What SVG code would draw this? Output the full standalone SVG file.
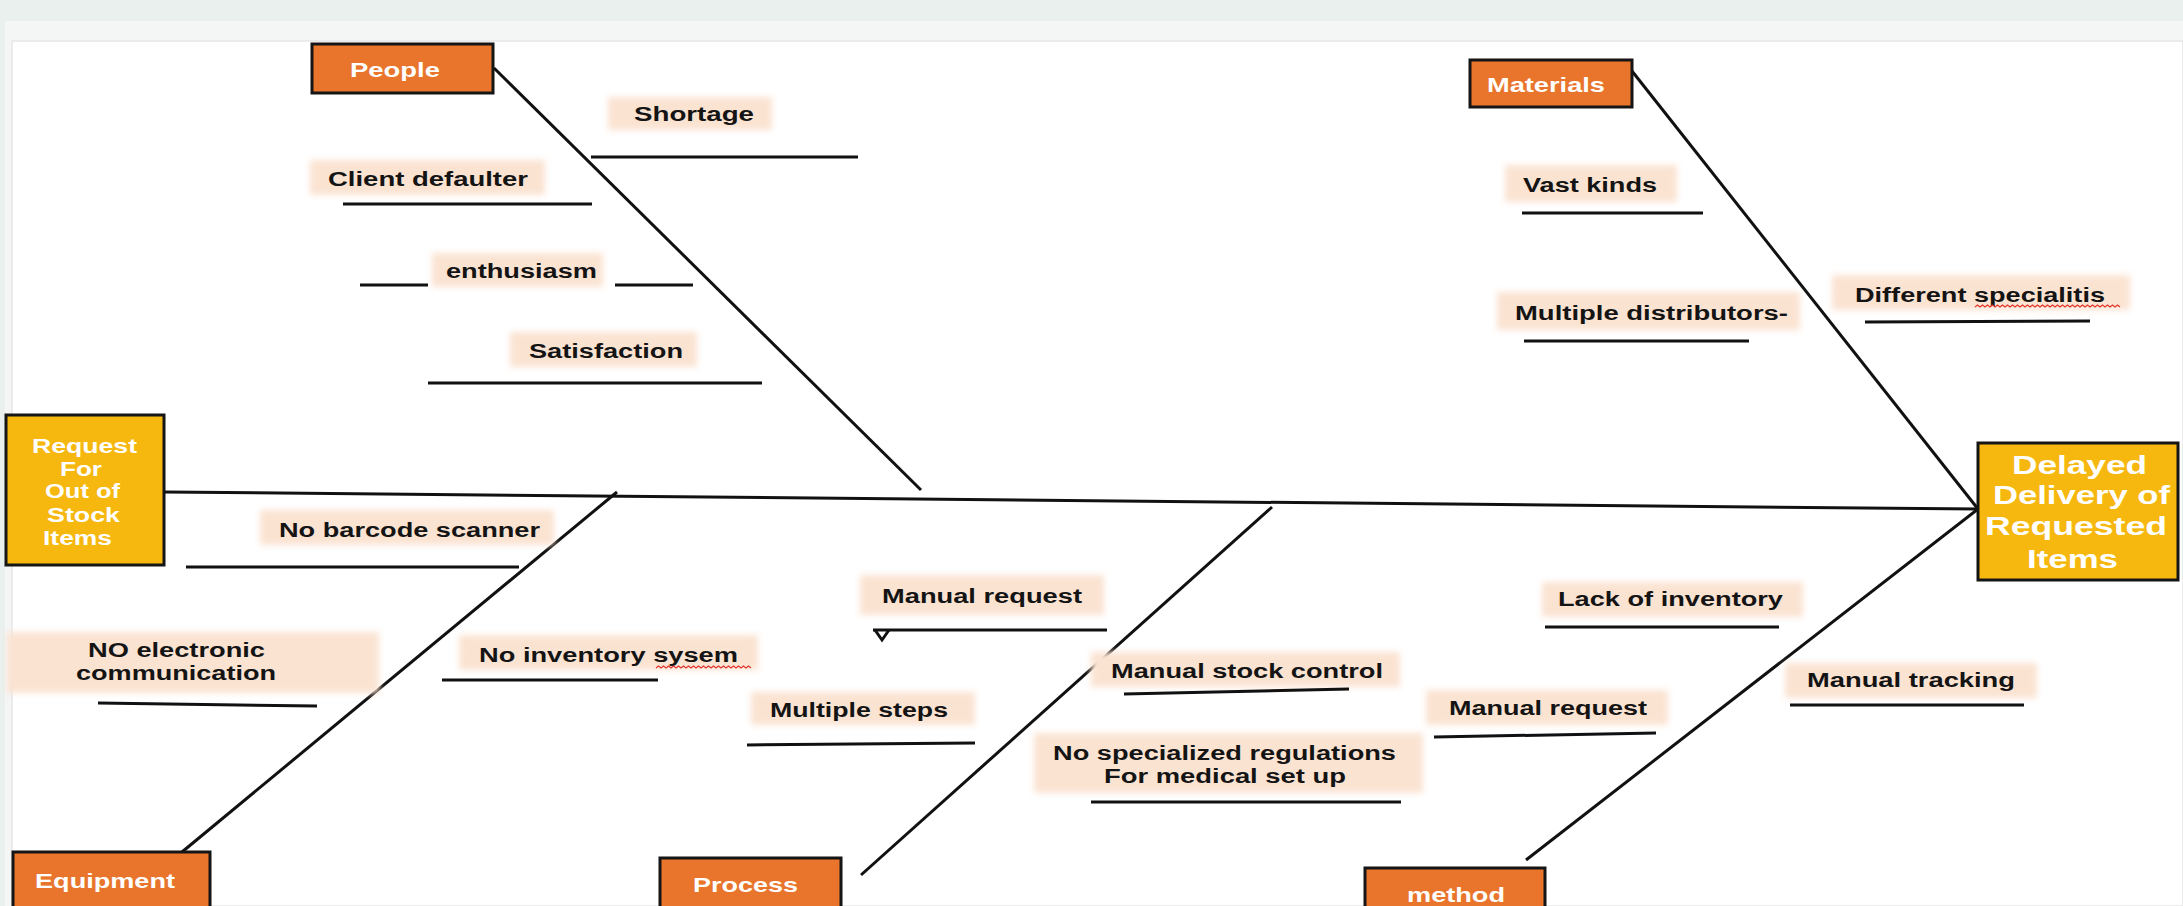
<svg xmlns="http://www.w3.org/2000/svg" width="2183" height="906" viewBox="0 0 2183 906">
<defs>
<filter id="soft" x="-10%" y="-40%" width="120%" height="180%"><feGaussianBlur stdDeviation="3"/></filter>
<style>
.lbl{font-family:"Liberation Sans",Arial,sans-serif;font-weight:bold;font-size:20px;fill:#141414}
.bt{font-family:"Liberation Sans",Arial,sans-serif;font-weight:bold;font-size:21px;fill:#ffffff}
.big{font-family:"Liberation Sans",Arial,sans-serif;font-weight:bold;font-size:25px;fill:#ffffff}
.bg{fill:#fbe3d2;filter:url(#soft)}
.ul{stroke:#111;stroke-width:3;fill:none}
.bone{stroke:#111;stroke-width:3;fill:none}
.org{fill:#e8752b;stroke:#151515;stroke-width:3}
.yel{fill:#f6b70e;stroke:#151515;stroke-width:3}
.sq{stroke:#e0362c;stroke-width:1.2;fill:none}
</style>
</defs>
<rect x="0" y="0" width="2183" height="906" fill="#e9f0ee"/>
<rect x="5" y="21" width="2178" height="885" fill="#f4f5f5"/>
<rect x="12" y="41" width="2171" height="865" fill="#ffffff" stroke="#e6e6e6" stroke-width="1.5"/>

<g id="connectors">
<line class="bone" x1="164" y1="492" x2="1978" y2="509"/>
<line class="bone" x1="494" y1="68" x2="921" y2="490"/>
<line class="bone" x1="1628" y1="66" x2="1978" y2="509"/>
<line class="bone" x1="182" y1="852" x2="617" y2="492"/>
<line class="bone" x1="861" y1="875" x2="1272" y2="507"/>
<line class="bone" x1="1526" y1="860" x2="1978" y2="509"/>
</g>

<g id="node-people">
<rect class="org" x="312" y="44" width="181" height="49"/>
<text class="bt" x="350" y="77" textLength="90" lengthAdjust="spacingAndGlyphs">People</text>
</g>
<g id="node-materials">
<rect class="org" x="1470" y="60" width="162" height="47"/>
<text class="bt" x="1487" y="92" textLength="118" lengthAdjust="spacingAndGlyphs">Materials</text>
</g>
<g id="node-equipment">
<rect class="org" x="13" y="852" width="197" height="60"/>
<text class="bt" x="35" y="888" textLength="140" lengthAdjust="spacingAndGlyphs">Equipment</text>
</g>
<g id="node-process">
<rect class="org" x="660" y="858" width="181" height="54"/>
<text class="bt" x="693" y="892" textLength="105" lengthAdjust="spacingAndGlyphs">Process</text>
</g>
<g id="node-method">
<rect class="org" x="1365" y="868" width="180" height="44"/>
<text class="bt" x="1407" y="902" textLength="98" lengthAdjust="spacingAndGlyphs">method</text>
</g>
<g id="node-request">
<rect class="yel" x="6" y="415" width="158" height="150"/>
<text class="bt" x="32" y="453" textLength="105" lengthAdjust="spacingAndGlyphs">Request</text>
<text class="bt" x="60" y="476" textLength="42" lengthAdjust="spacingAndGlyphs">For</text>
<text class="bt" x="45" y="498" textLength="75" lengthAdjust="spacingAndGlyphs">Out of</text>
<text class="bt" x="47" y="522" textLength="73" lengthAdjust="spacingAndGlyphs">Stock</text>
<text class="bt" x="43" y="545" textLength="69" lengthAdjust="spacingAndGlyphs">Items</text>
</g>
<g id="node-delayed">
<rect class="yel" x="1978" y="443" width="200" height="137"/>
<text class="big" x="2012" y="474" textLength="135" lengthAdjust="spacingAndGlyphs">Delayed</text>
<text class="big" x="1993" y="504" textLength="177" lengthAdjust="spacingAndGlyphs">Delivery of</text>
<text class="big" x="1985" y="535" textLength="182" lengthAdjust="spacingAndGlyphs">Requested</text>
<text class="big" x="2027" y="568" textLength="91" lengthAdjust="spacingAndGlyphs">Items</text>
</g>

<g id="cause-shortage">
<rect class="bg" x="608" y="97" width="164" height="33"/>
<text class="lbl" x="634" y="121" textLength="120" lengthAdjust="spacingAndGlyphs">Shortage</text>
<line class="ul" x1="591" y1="157" x2="858" y2="157"/>
</g>
<g id="cause-client-defaulter">
<rect class="bg" x="310" y="160" width="235" height="35"/>
<text class="lbl" x="328" y="186" textLength="200" lengthAdjust="spacingAndGlyphs">Client defaulter</text>
<line class="ul" x1="343" y1="204" x2="592" y2="204"/>
</g>
<g id="cause-enthusiasm">
<rect class="bg" x="432" y="253" width="171" height="34"/>
<text class="lbl" x="446" y="278" textLength="151" lengthAdjust="spacingAndGlyphs">enthusiasm</text>
<line class="ul" x1="360" y1="285" x2="428" y2="285"/>
<line class="ul" x1="615" y1="285" x2="693" y2="285"/>
</g>
<g id="cause-satisfaction">
<rect class="bg" x="510" y="332" width="187" height="35"/>
<text class="lbl" x="529" y="358" textLength="154" lengthAdjust="spacingAndGlyphs">Satisfaction</text>
<line class="ul" x1="428" y1="383" x2="762" y2="383"/>
</g>
<g id="cause-vast-kinds">
<rect class="bg" x="1505" y="165" width="172" height="37"/>
<text class="lbl" x="1523" y="192" textLength="134" lengthAdjust="spacingAndGlyphs">Vast kinds</text>
<line class="ul" x1="1522" y1="213" x2="1703" y2="213"/>
</g>
<g id="cause-multiple-distributors">
<rect class="bg" x="1497" y="292" width="303" height="38"/>
<text class="lbl" x="1515" y="320" textLength="273" lengthAdjust="spacingAndGlyphs">Multiple distributors-</text>
<line class="ul" x1="1524" y1="341" x2="1749" y2="341"/>
</g>
<g id="cause-different-specialitis">
<rect class="bg" x="1832" y="275" width="298" height="35"/>
<text class="lbl" x="1855" y="302" textLength="250" lengthAdjust="spacingAndGlyphs">Different specialitis</text>
<path class="sq" d="M1975,307 l2.5,-2 2.5,2 2.5,-2 2.5,2 2.5,-2 2.5,2 2.5,-2 2.5,2 2.5,-2 2.5,2 2.5,-2 2.5,2 2.5,-2 2.5,2 2.5,-2 2.5,2 2.5,-2 2.5,2 2.5,-2 2.5,2 2.5,-2 2.5,2 2.5,-2 2.5,2 2.5,-2 2.5,2 2.5,-2 2.5,2 2.5,-2 2.5,2 2.5,-2 2.5,2 2.5,-2 2.5,2 2.5,-2 2.5,2 2.5,-2 2.5,2 2.5,-2 2.5,2 2.5,-2 2.5,2 2.5,-2 2.5,2 2.5,-2 2.5,2 2.5,-2 2.5,2 2.5,-2 2.5,2 2.5,-2 2.5,2 2.5,-2 2.5,2 2.5,-2 2.5,2 2.5,-2 2.5,2"/>
<line class="ul" x1="1865" y1="322" x2="2090" y2="321"/>
</g>
<g id="cause-no-barcode-scanner">
<rect class="bg" x="260" y="510" width="294" height="35"/>
<text class="lbl" x="279" y="537" textLength="261" lengthAdjust="spacingAndGlyphs">No barcode scanner</text>
<line class="ul" x1="186" y1="567" x2="519" y2="567"/>
</g>
<g id="cause-no-electronic-communication">
<rect class="bg" x="7" y="632" width="372" height="61"/>
<text class="lbl" x="88" y="657" textLength="177" lengthAdjust="spacingAndGlyphs">NO electronic</text>
<text class="lbl" x="76" y="680" textLength="200" lengthAdjust="spacingAndGlyphs">communication</text>
<line class="ul" x1="98" y1="703" x2="317" y2="706"/>
</g>
<g id="cause-no-inventory-sysem">
<rect class="bg" x="459" y="635" width="299" height="35"/>
<text class="lbl" x="479" y="662" textLength="259" lengthAdjust="spacingAndGlyphs">No inventory sysem</text>
<path class="sq" d="M656,668 l2.5,-2 2.5,2 2.5,-2 2.5,2 2.5,-2 2.5,2 2.5,-2 2.5,2 2.5,-2 2.5,2 2.5,-2 2.5,2 2.5,-2 2.5,2 2.5,-2 2.5,2 2.5,-2 2.5,2 2.5,-2 2.5,2 2.5,-2 2.5,2 2.5,-2 2.5,2 2.5,-2 2.5,2 2.5,-2 2.5,2 2.5,-2 2.5,2 2.5,-2 2.5,2 2.5,-2 2.5,2 2.5,-2 2.5,2 2.5,-2 2.5,2"/>
<line class="ul" x1="442" y1="680" x2="658" y2="680"/>
</g>
<g id="cause-manual-request-1">
<rect class="bg" x="860" y="575" width="244" height="40"/>
<text class="lbl" x="882" y="603" textLength="200" lengthAdjust="spacingAndGlyphs">Manual request</text>
<line class="ul" x1="873" y1="630" x2="1107" y2="630"/>
<polyline class="ul" points="875,630 882,640 889,630"/>
</g>
<g id="cause-multiple-steps">
<rect class="bg" x="751" y="692" width="224" height="33"/>
<text class="lbl" x="770" y="717" textLength="178" lengthAdjust="spacingAndGlyphs">Multiple steps</text>
<line class="ul" x1="747" y1="745" x2="975" y2="743"/>
</g>
<g id="cause-manual-stock-control">
<rect class="bg" x="1091" y="652" width="309" height="35"/>
<text class="lbl" x="1111" y="678" textLength="272" lengthAdjust="spacingAndGlyphs">Manual stock control</text>
<line class="ul" x1="1124" y1="694" x2="1349" y2="689"/>
</g>
<g id="cause-no-specialized-regulations">
<rect class="bg" x="1034" y="733" width="389" height="60"/>
<text class="lbl" x="1053" y="760" textLength="343" lengthAdjust="spacingAndGlyphs">No specialized regulations</text>
<text class="lbl" x="1104" y="783" textLength="242" lengthAdjust="spacingAndGlyphs">For medical set up</text>
<line class="ul" x1="1091" y1="802" x2="1401" y2="802"/>
</g>
<g id="cause-lack-of-inventory">
<rect class="bg" x="1542" y="582" width="261" height="35"/>
<text class="lbl" x="1558" y="606" textLength="225" lengthAdjust="spacingAndGlyphs">Lack of inventory</text>
<line class="ul" x1="1545" y1="627" x2="1779" y2="627"/>
</g>
<g id="cause-manual-request-2">
<rect class="bg" x="1426" y="690" width="242" height="35"/>
<text class="lbl" x="1449" y="715" textLength="198" lengthAdjust="spacingAndGlyphs">Manual request</text>
<line class="ul" x1="1434" y1="737" x2="1656" y2="733"/>
</g>
<g id="cause-manual-tracking">
<rect class="bg" x="1785" y="663" width="252" height="35"/>
<text class="lbl" x="1807" y="687" textLength="208" lengthAdjust="spacingAndGlyphs">Manual tracking</text>
<line class="ul" x1="1790" y1="705" x2="2024" y2="705"/>
</g>
</svg>
